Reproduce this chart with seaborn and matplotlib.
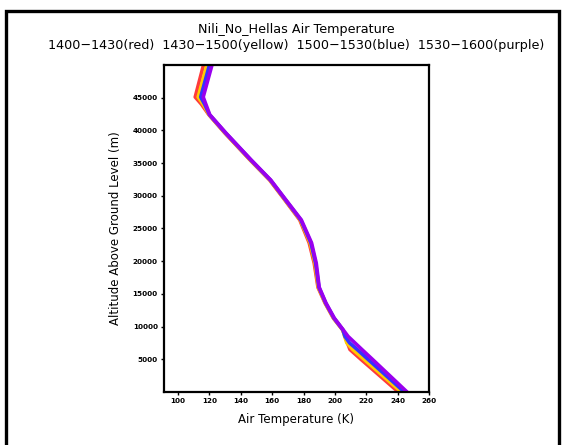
import matplotlib
matplotlib.use("Agg")
import matplotlib.pyplot as plt
import numpy as np
import pandas as pd
import seaborn as sns
from matplotlib.patches import Rectangle


# altitude levels (m) shared by all four profiles
altitude = [0, 5000, 6500, 7500, 8500, 9500, 11300, 13600, 16000, 19700,
            22800, 26300, 29600, 32400, 35500, 39600, 42400, 44000, 45100, 50000]

# air temperature (K) for each half hour
t_red    = [240.5, 216.6, 209.6, 208.0, 206.6, 204.9, 199.0, 193.7, 189.2, 186.8,
            183.6, 177.6, 167.3, 158.4, 145.8, 129.8, 119.6, 114.9, 110.9, 116.2]
t_yellow = [242.4, 218.6, 211.4, 207.6, 206.2, 205.0, 199.2, 193.9, 189.5, 187.3,
            184.2, 178.0, 167.6, 158.7, 146.1, 130.1, 119.8, 116.0, 112.8, 118.4]
t_blue   = [244.3, 221.1, 214.2, 209.4, 206.4, 205.1, 199.4, 194.1, 189.8, 187.7,
            184.7, 178.3, 167.8, 158.9, 146.3, 130.3, 120.0, 116.9, 114.4, 120.0]
t_purple = [246.0, 223.9, 217.2, 212.8, 208.4, 205.3, 199.6, 194.3, 190.0, 188.1,
            185.1, 178.6, 168.0, 159.1, 146.5, 130.5, 120.2, 117.7, 116.0, 121.6]

periods = ["1400-1430", "1430-1500", "1500-1530", "1530-1600"]
colors = ["#ff3b3b", "#ffcc00", "#3333ff", "#9900ee"]

rows = []
for p, temps in zip(periods, [t_red, t_yellow, t_blue, t_purple]):
    for i, (t, a) in enumerate(zip(temps, altitude)):
        rows.append({"period": p, "order": i, "temp": t, "alt": a})
df = pd.DataFrame(rows)

sns.set_style("white")
plt.rcParams['font.family'] = ['DejaVu Sans']
plt.rcParams['text.color'] = 'black'
plt.rcParams['axes.labelcolor'] = 'black'
plt.rcParams['xtick.color'] = 'black'
plt.rcParams['ytick.color'] = 'black'

fig = plt.figure(figsize=(5.66, 4.45), dpi=100)
ax = fig.add_axes([164 / 566, 1 - 392 / 445, 265 / 566, 327 / 445])

sns.lineplot(data=df, x="temp", y="alt", hue="period", palette=colors,
             sort=False, estimator=None, units="period", linewidth=2.6,
             legend=False, ax=ax)

ax.set_xlim(91, 260)
ax.set_ylim(0, 50000)
ax.set_xticks(np.arange(100, 261, 20))
ax.set_yticks(np.arange(5000, 45001, 5000))
ax.tick_params(axis="both", labelsize=5.2, length=2.5, width=1, direction="out",
               pad=2, bottom=True, left=True)
for lab in ax.get_xticklabels() + ax.get_yticklabels():
    lab.set_fontweight("bold")
for s in ax.spines.values():
    s.set_linewidth(1.6)
    s.set_color("black")

ax.set_xlabel("Air Temperature (K)", fontsize=8.5, labelpad=6)
ax.set_ylabel("Altitude Above Ground Level (m)", fontsize=8.5, labelpad=8)

fig.text(296 / 566, 1 - 30 / 445, "Nili_No_Hellas Air Temperature",
         ha="center", va="center", fontsize=9.2)
fig.text(296 / 566, 1 - 46 / 445,
         "1400\u22121430(red)  1430\u22121500(yellow)  1500\u22121530(blue)  1530\u22121600(purple)",
         ha="center", va="center", fontsize=9.2)

# outer frame
fig.patches.append(Rectangle((6 / 566, -0.05), 553 / 566, 1.05 - 11 / 445,
                             transform=fig.transFigure, fill=False,
                             edgecolor="black", linewidth=2.4))

fig.savefig("out.png", dpi=100)
